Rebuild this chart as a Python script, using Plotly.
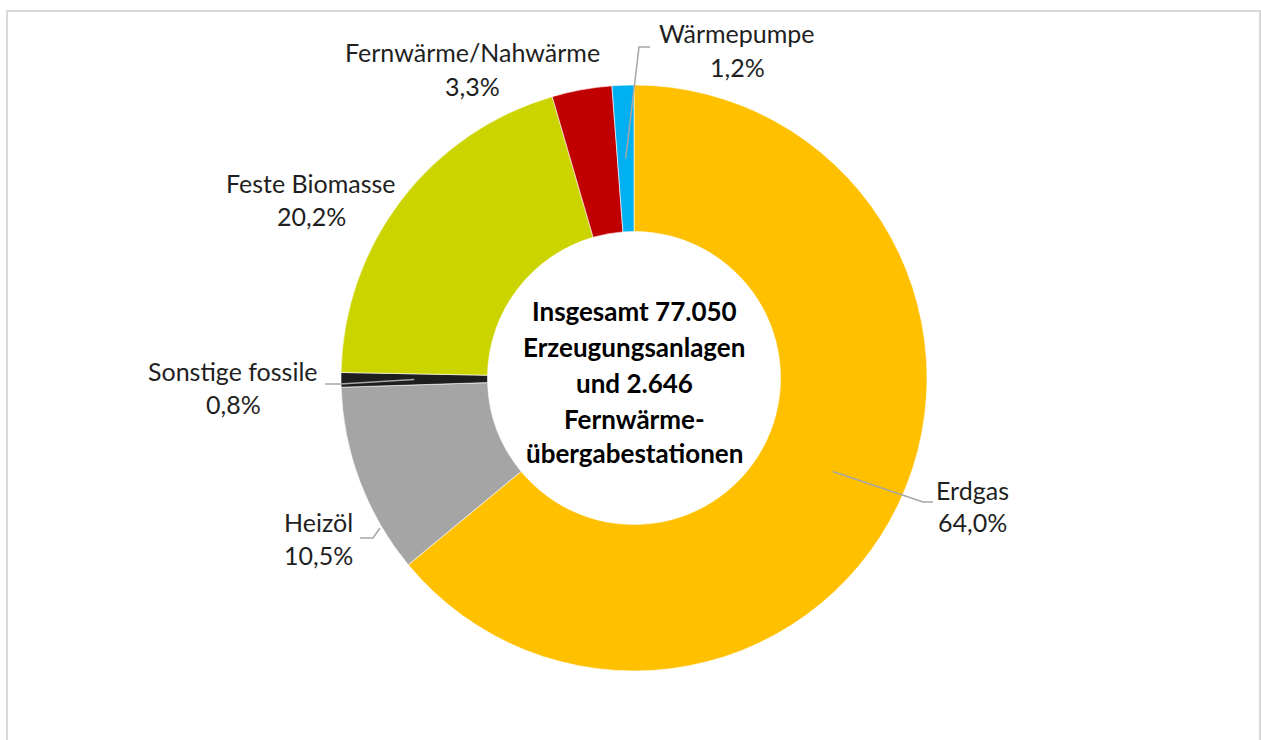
import math
import plotly.graph_objects as go

# ---- data ----
categories = ["Erdgas", "Heizöl", "Sonstige fossile", "Feste Biomasse",
              "Fernwärme/Nahwärme", "Wärmepumpe"]
shares = [64.0, 10.5, 0.8, 20.2, 3.3, 1.2]
colors = ["#FFC000", "#A5A5A5", "#1E1E1E", "#CCD400", "#C00000", "#00B0F0"]
center_lines = ["Insgesamt 77.050", "Erzeugungsanlagen", "und 2.646",
                "Fernwärme-", "übergabestationen"]

# ---- layout constants (pixels) ----
W, H = 1261, 740
CX, CY, R = 634, 378, 293
HOLE = 0.5

def px(x):
    return x / W

def py(y):
    return 1 - y / H

# label centres (name line, percent line) in pixels
label_pos = {
    "Erdgas": (972, 490, 522),
    "Heizöl": (318, 522, 555),
    "Sonstige fossile": (233, 371, 404),
    "Feste Biomasse": (311, 183, 216),
    "Fernwärme/Nahwärme": (472, 52, 86),
    "Wärmepumpe": (737, 33, 67),
}
# leader elbows (pixels); start computed from slice mid-angle unless given
leaders = {
    "Erdgas": {"r": 0.75, "pts": [(923, 502), (933, 502)]},
    "Sonstige fossile": {"r": 0.75, "pts": [(340, 384), (325, 384)]},
    "Heizöl": {"start": (380, 528), "pts": [(373, 538), (360, 538)]},
    "Wärmepumpe": {"r": 0.75, "pts": [(639, 47), (650, 47)]},
}

fig = go.Figure(go.Pie(
    labels=categories,
    values=shares,
    marker=dict(colors=colors, line=dict(color="white", width=0.6)),
    hole=HOLE,
    sort=False,
    direction="clockwise",
    rotation=0,
    textinfo="none",
    hoverinfo="label+percent",
    showlegend=False,
    domain=dict(x=[px(CX - R), px(CX + R)], y=[py(CY + R), py(CY - R)]),
))

annotations = []
label_font = dict(family="Lato, Carlito, sans-serif", size=25, color="#1F1F1F")
for cat, val in zip(categories, shares):
    x, y1, y2 = label_pos[cat]
    annotations.append(dict(x=px(x), y=py(y1), xref="paper", yref="paper",
                            text=cat, showarrow=False, font=label_font,
                            xanchor="center", yanchor="middle"))
    annotations.append(dict(x=px(x), y=py(y2), xref="paper", yref="paper",
                            text=f"{val:.1f}".replace(".", ",") + "%",
                            showarrow=False, font=label_font,
                            xanchor="center", yanchor="middle"))

center_y = [311, 347, 383, 419, 453]
for line, y in zip(center_lines, center_y):
    annotations.append(dict(x=px(CX), y=py(y), xref="paper", yref="paper",
                            text=f"<b>{line}</b>", showarrow=False,
                            font=dict(family="Lato, Carlito, sans-serif", size=26,
                                      color="#000000"),
                            xanchor="center", yanchor="middle"))

shapes = [dict(type="rect", xref="paper", yref="paper",
               x0=px(7), x1=px(1260), y0=py(770), y1=py(11),
               line=dict(color="#D9D9D9", width=2), fillcolor="rgba(0,0,0,0)")]

cum = 0
mids = {}
for cat, val in zip(categories, shares):
    mids[cat] = (cum + val / 2) / sum(shares) * 360
    cum += val

for cat, spec in leaders.items():
    if "start" in spec:
        sx, sy = spec["start"]
    else:
        ang = math.radians(mids[cat])
        rr = R * spec["r"]
        sx, sy = CX + rr * math.sin(ang), CY - rr * math.cos(ang)
    pts = [(sx, sy)] + spec["pts"]
    path = "M " + " L ".join(f"{px(a)},{py(b)}" for a, b in pts)
    shapes.append(dict(type="path", xref="paper", yref="paper", path=path,
                       line=dict(color="#A6A6A6", width=1.5)))

fig.update_layout(
    width=W, height=H,
    margin=dict(l=0, r=0, t=0, b=0),
    paper_bgcolor="white",
    plot_bgcolor="white",
    annotations=annotations,
    shapes=shapes,
)

fig.write_html(
    "out.html",
    config={"displayModeBar": False},
    post_script="document.body.style.margin='0';document.body.style.overflow='hidden';",
)
